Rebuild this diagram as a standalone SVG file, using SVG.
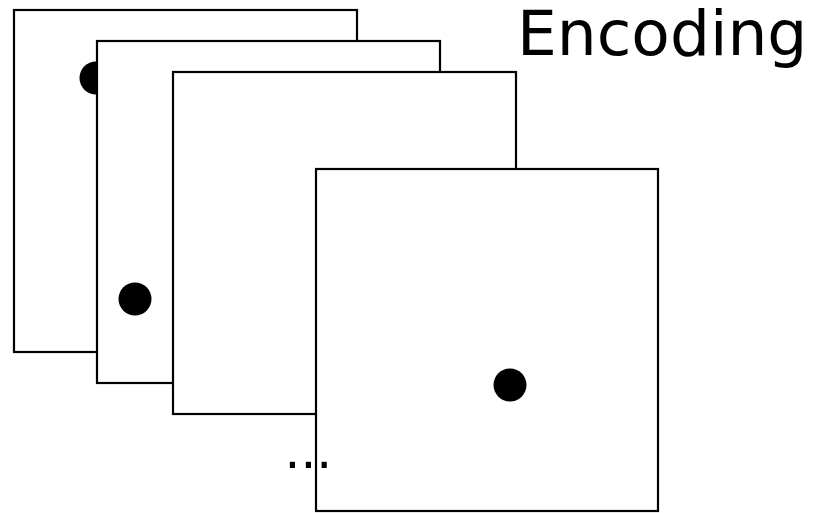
<svg xmlns="http://www.w3.org/2000/svg" width="817" height="513" viewBox="0 0 817 513">
  <style>
    .frame { fill: #ffffff; stroke: #000000; stroke-width: 2.2; }
    .dot { fill: #000000; }
    .label { font-family: "DejaVu Sans", "Liberation Sans", sans-serif; fill: #000000; }
  </style>
  <rect x="0" y="0" width="817" height="513" fill="#ffffff"/>
  <!-- stacked frames, back to front -->
  <g id="frame1">
    <rect class="frame" x="14" y="10" width="343" height="342"/>
    <circle class="dot" cx="96" cy="78" r="16.5"/>
  </g>
  <g id="frame2">
    <rect class="frame" x="97" y="41" width="343" height="342"/>
    <circle class="dot" cx="135" cy="299" r="16.5"/>
  </g>
  <g id="frame3">
    <rect class="frame" x="173" y="72" width="343" height="342"/>
  </g>
  <g id="frame4">
    <rect class="frame" x="316" y="169" width="342" height="342"/>
    <circle class="dot" cx="510" cy="385" r="16.5"/>
  </g>
  <g id="connectors"></g>
  <text class="label" x="284.5" y="468" font-size="50">...</text>
  <text class="label" x="517" y="55" font-size="63">Encoding</text>
</svg>
